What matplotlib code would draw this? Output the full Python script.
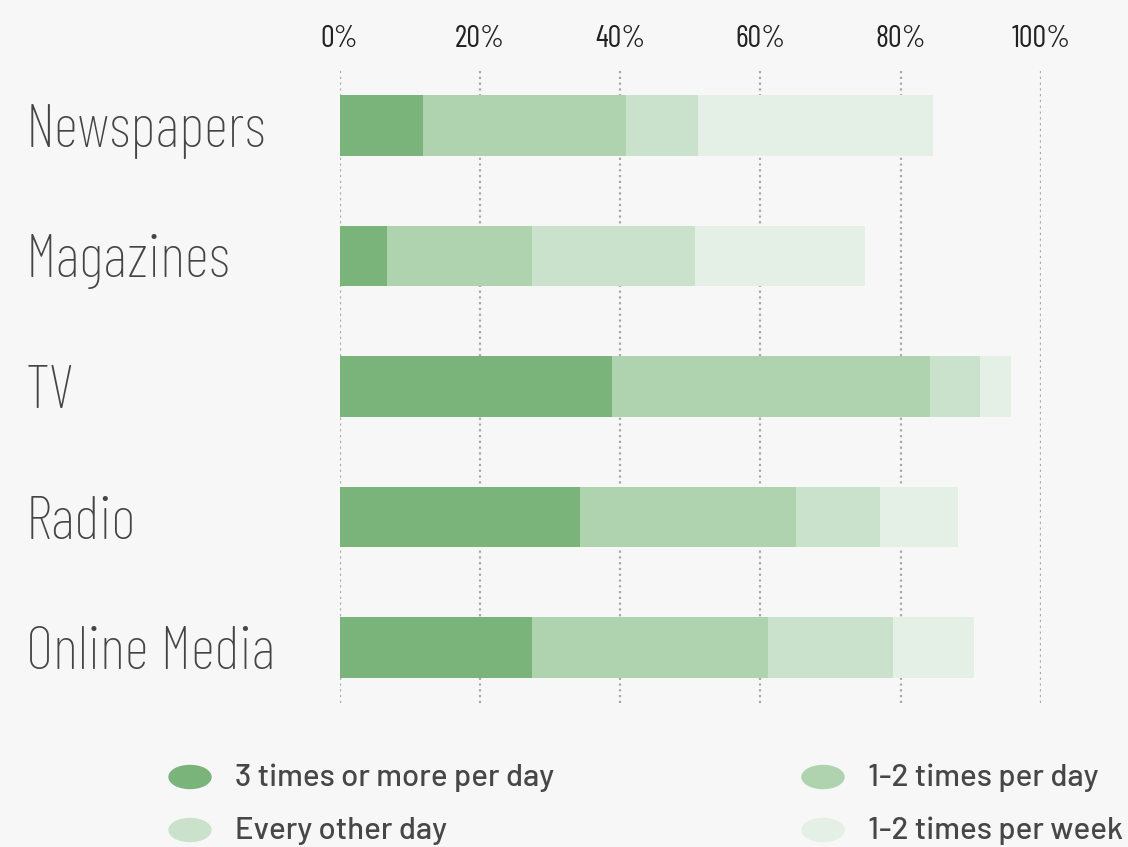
import matplotlib
matplotlib.use("Agg")
import matplotlib.pyplot as plt
from matplotlib.patches import Ellipse

categories = ["Newspapers", "Magazines", "TV", "Radio", "Online Media"]
series_names = ["3 times or more per day", "1-2 times per day",
                "Every other day", "1-2 times per week"]
three_plus_daily = [11.9, 6.8, 38.8, 34.3, 27.4]
one_two_daily = [28.9, 20.6, 45.4, 30.8, 33.7]
every_other_day = [10.3, 23.3, 7.1, 12.0, 17.8]
one_two_weekly = [33.5, 24.2, 4.4, 11.1, 11.5]
x_ticks = [0, 20, 40, 60, 80, 100]
x_tick_labels = ["0%", "20%", "40%", "60%", "80%", "100%"]

colors = ["#7bb47b", "#afd3ae", "#cae2cb", "#e4efe5"]
bg = "#f7f7f7"
narrow = ["Barlow Condensed", "DejaVu Sans"]
legend_font = ["Barlow", "DejaVu Sans"]

fig = plt.figure(figsize=(11.28, 8.47), dpi=100, facecolor=bg)
ax = fig.add_axes([339.5 / 1128, 144 / 847, 701.5 / 1128, 633 / 847])
ax.set_facecolor(bg)

series = [three_plus_daily, one_two_daily, every_other_day, one_two_weekly]
ypos = list(range(len(categories)))
left = [0.0] * len(categories)
for values, color, name in zip(series, colors, series_names):
    ax.barh(ypos, values, left=left, height=0.467, color=color,
            label=name, zorder=3)
    left = [a + b for a, b in zip(left, values)]

ax.set_xlim(0, 100)
ax.set_ylim(4.425, -0.425)

for x in x_ticks:
    ax.axvline(x, color="#a8a8a8", lw=1.6, ls=(0, (1, 1.6)), zorder=1)

for spine in ax.spines.values():
    spine.set_visible(False)

ax.xaxis.tick_top()
ax.set_xticks(x_ticks)
ax.set_xticklabels(x_tick_labels, family=narrow, fontsize=22,
                   weight="normal", color="#222222")
ax.tick_params(axis="x", length=0, pad=12)

ax.set_yticks(ypos)
ax.set_yticklabels(categories, family=narrow, fontsize=43.5, weight="light",
                   color="#454545", ha="left")
ax.tick_params(axis="y", length=0, pad=(339.5 - 26) * 72 / 100)

# legend drawn by hand: ellipse swatches and text in two columns
legend_items = [(190, 777), (823, 777), (190, 830), (823, 830)]
for (cx, cy), color, name in zip(legend_items, colors, series_names):
    fig.add_artist(Ellipse((cx / 1128, 1 - cy / 847), 42 / 1128, 23 / 847,
                           transform=fig.transFigure, color=color))
    fig.text((cx + 45) / 1128, 1 - (cy + 1) / 847, name, family=legend_font,
             fontsize=22.5, weight="medium", color="#474747",
             va="center", ha="left")

fig.savefig("out.png", dpi=100, facecolor=bg)
